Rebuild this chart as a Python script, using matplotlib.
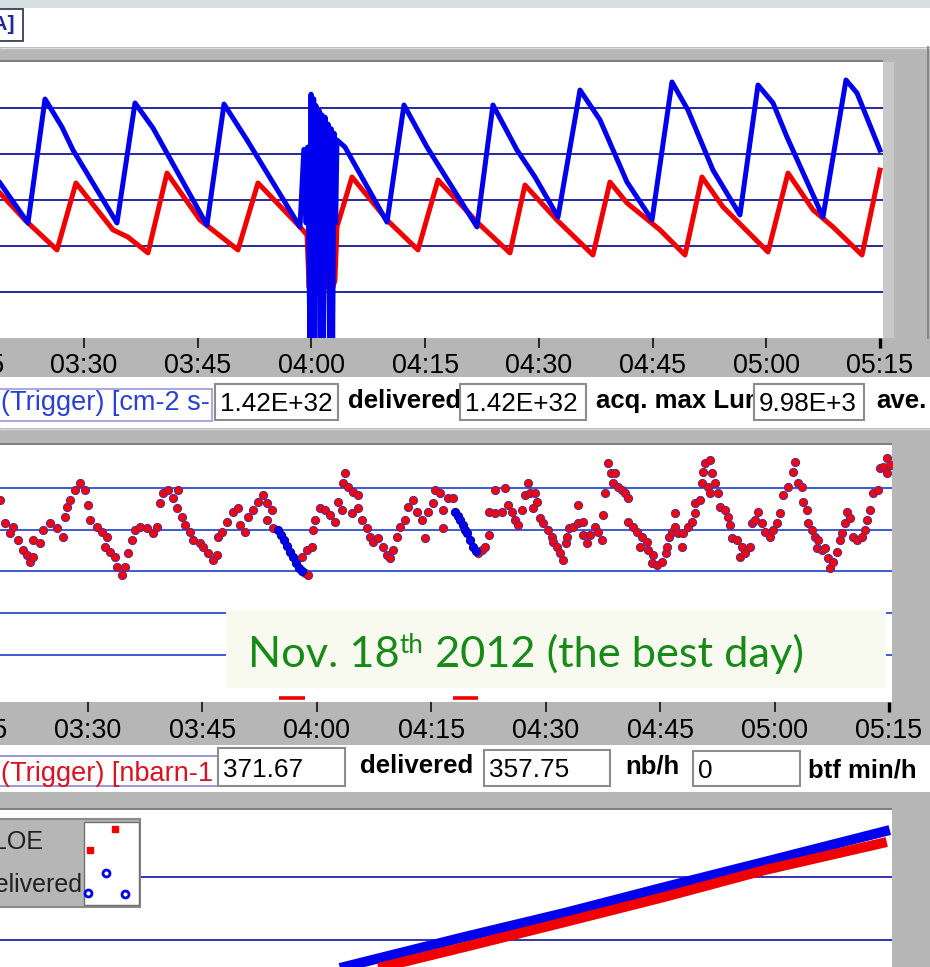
import matplotlib
matplotlib.use("Agg")
import matplotlib.pyplot as plt
from matplotlib.patches import Rectangle
from matplotlib.transforms import blended_transform_factory

plt.rcParams['font.family'] = ['Liberation Sans', 'DejaVu Sans']

# ---------------- time axis (minutes after 03:00) ----------------
tick_minutes = [15, 30, 45, 60, 75, 90, 105, 120, 135]
tick_labels = ['03:15', '03:30', '03:45', '04:00', '04:15', '04:30', '04:45', '05:00', '05:15']

# ---------------- panel 1: luminosity [1e32 cm-2 s-1] ----------------
lum_xlim = (18.92, 135.40)
lum_ylim = (0.2, 1.4)
lum_grid = [0.4, 0.6, 0.8, 1.0, 1.2]
lum_blue_t = [18.92, 22.61, 24.86, 27.10, 28.55, 34.35, 36.73, 39.10, 46.22, 48.47, 51.50, 58.49,
              59.0, 59.3, 59.5, 59.8, 59.95, 60.1, 60.3, 60.45, 60.6, 60.8, 61.0, 61.2, 61.4, 61.6,
              61.8, 62.0, 62.2, 62.4, 62.6, 62.8, 63.0, 63.2,
              63.37, 64.43, 69.97, 72.21, 75.25, 81.84, 83.95, 87.12, 89.49, 92.53, 95.43, 98.07,
              101.63, 104.93, 107.56, 109.67, 112.97, 116.53, 118.91, 120.89, 122.73, 127.48,
              130.52, 131.97, 135.0]
lum_blue_v = [0.874, 0.70, 1.239, 1.117, 1.017, 0.70, 1.222, 1.113, 0.691, 1.217, 1.061, 0.683,
              1.02, 0.70, 1.03, 0.18, 1.26, 0.18, 1.24, 0.18, 1.21, 0.72, 1.19, 0.18, 1.17, 0.18,
              1.16, 0.72, 1.13, 0.18, 1.11, 0.18, 1.09, 0.70,
              1.061, 1.030, 0.704, 1.213, 1.030, 0.683, 1.213, 1.017, 0.90, 0.726, 1.278, 1.148,
              0.878, 0.713, 1.313, 1.191, 0.930, 0.735, 1.30, 1.222, 1.074, 0.726,
              1.322, 1.265, 1.017]
lum_red_t = [18.92, 22.22, 26.44, 28.94, 33.83, 35.80, 38.44, 40.95, 45.30, 50.31, 52.95, 58.49, 59.42,
             59.7, 60.0, 60.4, 60.8, 61.2, 61.6, 62.0, 62.4, 62.8, 63.1,
             63.37, 65.35, 69.97, 74.06, 76.70, 81.97, 86.19, 88.17, 92.39, 97.14, 99.38, 101.63,
             105.98, 109.28, 111.52, 114.29, 120.23, 122.87, 126.17, 128.80, 132.63, 135.0]
lum_red_v = [0.830, 0.713, 0.583, 0.874, 0.670, 0.639, 0.570, 0.917, 0.713, 0.583, 0.874, 0.683, 0.648,
             0.42, 0.68, 0.42, 0.68, 0.42, 0.68, 0.42, 0.68, 0.42, 0.45,
             0.683, 0.90, 0.713, 0.583, 0.887, 0.70, 0.570, 0.865, 0.713, 0.561, 0.878, 0.787,
             0.670, 0.561, 0.90, 0.770, 0.574, 0.917, 0.757, 0.683, 0.561, 0.930]

# ---------------- panel 2: specific rate [nb-1 per hour] ----------------
rate_xlim = (18.465, 135.39)
rate_ylim = (143.7, 451.5)
rate_grid = [200, 250, 300, 350, 400]
rate_t = [
    18.5, 19.1, 20.2, 19.8, 20.8, 21.5, 22.0, 22.4, 22.8, 22.8, 23.7, 24.1, 25.0, 25.9, 26.7, 27.0, 27.2, 27.6, 28.3, 28.9,
    29.6, 30.0, 30.3, 31.2, 31.8, 32.5, 32.2, 32.9, 33.5, 33.8, 34.5, 34.9, 35.2, 35.8, 36.2, 36.8, 37.7, 38.5, 39.0, 39.4,
    39.8, 40.5, 41.1, 41.8, 41.7, 42.3, 42.7, 43.4, 43.8, 44.7, 45.1, 45.7, 46.4, 46.9, 47.0, 47.6, 48.2, 49.0, 49.7, 49.9,
    50.6, 51.0, 51.6, 52.3, 52.9, 53.5, 54.1, 53.5, 54.3, 58.5, 58.9, 58.1, 58.7, 59.4, 59.5, 59.8, 60.4, 61.1, 61.7, 62.4,
    62.8, 63.3, 63.4, 63.7, 64.1, 64.7, 65.4, 64.6, 65.4, 65.9, 66.6, 67.0, 67.4, 68.0, 68.7, 69.2, 69.6, 70.0, 70.5, 70.9,
    71.6, 72.0, 72.6, 73.1, 73.8, 74.2, 74.6, 75.2, 75.5, 76.1, 76.5, 76.5, 77.2, 77.8, 81.1, 81.7, 82.1, 82.5, 82.5, 83.4,
    83.4, 84.7, 84.3, 85.0, 85.6, 86.0, 86.4, 86.9, 87.3, 87.7, 87.9, 88.3, 88.9, 88.6, 89.3, 89.7, 90.3, 90.8, 91.0, 91.5,
    91.9, 92.2, 92.6, 92.8, 93.0, 93.6, 94.2, 94.2, 94.9, 94.9, 95.4, 95.8, 96.5, 96.9, 97.4, 97.5, 97.8, 98.2, 98.5, 99.1,
    98.8, 99.5, 100.0, 100.4, 100.8, 100.8, 101.4, 102.0, 102.6, 103.3, 102.4, 103.4, 104.1, 103.9, 104.6, 105.3, 105.7, 105.9, 106.1, 106.6,
    107.0, 107.0, 107.4, 107.9, 108.0, 108.7, 109.2, 109.6, 109.6, 110.2, 110.5, 110.6, 110.9, 111.5, 111.8, 112.2, 111.3, 111.5, 112.6, 112.8,
    113.5, 113.9, 114.2, 114.4, 115.1, 115.7, 115.5, 116.1, 116.8, 117.0, 117.4, 117.8, 118.4, 118.7, 119.4, 119.8, 120.3, 120.7, 121.1, 121.8,
    122.4, 122.7, 123.1, 123.6, 123.7, 124.2, 124.4, 124.9, 125.3, 125.7, 125.6, 126.2, 126.6, 127.0, 127.3, 127.7, 128.2, 128.6, 128.8, 129.2,
    129.5, 129.9, 130.3, 130.8, 131.5, 131.9, 132.1, 132.5, 132.9, 133.6, 133.8, 134.2, 134.7, 134.8, 135.1]
rate_v = [
    386, 358, 353, 346, 338, 326, 320, 311, 317, 338, 334, 350, 358, 352, 341, 365, 377, 386, 398, 406,
    398, 380, 362, 353, 347, 341, 329, 323, 317, 305, 296, 305, 322, 338, 350, 353, 352, 346, 353, 382,
    394, 398, 388, 398, 376, 365, 356, 347, 338, 334, 329, 322, 314, 320, 341, 347, 359, 371, 376, 356,
    347, 365, 374, 383, 392, 382, 374, 362, 352, 298, 296, 317, 326, 329, 350, 362, 376, 374, 368, 359,
    383, 374, 406, 418, 401, 395, 392, 370, 376, 362, 352, 341, 335, 340, 329, 320, 316, 326, 341, 353,
    362, 377, 386, 371, 362, 340, 371, 382, 398, 394, 374, 352, 388, 388, 322, 326, 329, 344, 371, 370,
    398, 400, 371, 380, 371, 362, 356, 374, 392, 406, 394, 376, 383, 394, 364, 358, 350, 341, 335, 329,
    322, 314, 334, 341, 352, 353, 358, 380, 359, 344, 334, 344, 353, 347, 338, 368, 394, 430, 418, 418,
    406, 401, 398, 394, 388, 359, 353, 347, 341, 335, 329, 326, 320, 310, 308, 311, 322, 329, 341, 347,
    353, 370, 346, 329, 346, 353, 359, 370, 382, 386, 406, 419, 430, 434, 418, 406, 401, 394, 394, 377,
    374, 365, 356, 340, 338, 329, 317, 322, 329, 358, 362, 371, 358, 347, 341, 350, 358, 370, 392, 401,
    419, 431, 406, 401, 383, 374, 358, 350, 341, 338, 328, 326, 328, 316, 304, 311, 323, 338, 346, 358,
    371, 364, 341, 338, 341, 350, 362, 374, 394, 398, 424, 425, 436, 418, 428]
rate_blue_t = [54.9, 55.3, 55.7, 56.1, 56.5, 56.9, 57.3, 57.7, 58.1,
               78.1, 78.5, 78.8, 79.1, 79.4, 79.7, 80.1, 80.5, 80.8]
rate_blue_v = [350, 344, 338, 330, 323, 317, 310, 304, 300,
               371, 366, 362, 356, 350, 346, 338, 329, 325]
rate_low_start = [55.0, 77.8]
rate_low_end = [58.4, 81.1]
rate_low_v = 148.5

# ---------------- panel 3: integrated luminosity [nb-1] ----------------
int_xlim = (18.465, 135.39)
int_ylim = (514.3, 1012.7)
int_grid = [600, 800]
int_deliv_t = [60.5, 63.0, 79.4, 92.5, 105.6, 118.7, 135.1]
int_deliv_v = [497, 511, 610, 686, 768, 848, 949]
int_loe_t = [62.0, 64.3, 79.4, 92.5, 105.6, 118.7, 134.7]
int_loe_v = [475, 489, 578, 657, 737, 822, 911]

# ---------------- read-out fields ----------------
row1_values = ['1.42E+32', '1.42E+32', '9.98E+3']
row2_values = ['371.67', '357.75', '0']
note_text = ['Nov. 18', 'th', ' 2012 (the best day)']

GREY = '#b6b6b6'
BLUE = '#0000ee'
RED = '#f00000'

W, H = 930, 967
fig = plt.figure(figsize=(W / 100, H / 100), dpi=100)


def px_axes(x0, y0, x1, y1, z):
    return fig.add_axes([x0 / W, 1 - y1 / H, (x1 - x0) / W, (y1 - y0) / H], zorder=z)


def chrome_axes(z):
    ax = px_axes(0, 0, W, H, z)
    ax.set_xlim(0, W)
    ax.set_ylim(H, 0)
    ax.axis('off')
    return ax


bg = chrome_axes(0)
ov = chrome_axes(5)


def box(ax, x0, y0, x1, y1, fc, ec='none', lw=0.0, z=1):
    r = Rectangle((x0, y0), x1 - x0, y1 - y0, facecolor=fc, edgecolor=ec, linewidth=lw, zorder=z)
    ax.add_patch(r)
    return r


def hline(ax, y, x0, x1, c, lw=1.0, z=2):
    ax.plot([x0, x1], [y, y], color=c, lw=lw, zorder=z, solid_capstyle='butt')


# window frame
box(bg, 0, 0, W, 8, '#d5dfe0')
box(bg, 0, 8, W, 47, 'white')
box(bg, 0, 47, W, 62, GREY)
hline(bg, 47.5, 0, W, '#dedede', 1.0)
hline(bg, 61, 0, 883, '#7f7f7f', 1.4)
box(bg, 883, 47, W, 377, GREY)
box(bg, 883, 62, 894, 338, '#c9c9c9')
bg.plot([927.5, 927.5], [47, 338], color='#7d7d7d', lw=1.2, zorder=2)
box(bg, 0, 338, W, 377, GREY)
box(bg, 0, 377, W, 428, 'white')
box(bg, 0, 428, W, 445, GREY)
hline(bg, 428.5, 0, W, '#dcdcdc', 1.0)
hline(bg, 443.5, 0, 892, '#7f7f7f', 1.4)
box(bg, 892, 428, W, 745, GREY)
box(bg, 0, 702, W, 745, GREY)
box(bg, 0, 745, W, 792, 'white')
box(bg, 0, 792, W, 810, GREY)
hline(bg, 808.5, 0, 892, '#7f7f7f', 1.4)
box(bg, 892, 792, W, H, GREY)

# unit box at the top
box(bg, -3, 9, 23, 41, 'white', '#3b3b5b', 1.3, z=3)
bg.text(15, 25, '[mA]', ha='right', va='center', fontsize=15, fontweight='bold',
        color='#1f2b9c', zorder=4)


def data_axes(x0, y0, x1, y1, xlim, ylim):
    ax = px_axes(x0, y0, x1, y1, 2)
    ax.set_xlim(*xlim)
    ax.set_ylim(*ylim)
    for s in ax.spines.values():
        s.set_visible(False)
    ax.set_yticks([])
    ax.set_facecolor('white')
    return ax


def time_ticks(ax, label_top_px, pad):
    ax.set_xticks(tick_minutes[1:])
    ax.set_xticklabels(tick_labels[1:])
    ax.tick_params(axis='x', direction='out', length=7.2, width=1.1, pad=pad,
                   labelsize=19.4, colors='black')
    ax.xaxis.get_major_ticks()[-1].tick1line.set_markeredgewidth(2.4)
    tr = blended_transform_factory(ax.transData, bg.transData)
    bg.text(tick_minutes[0], label_top_px, tick_labels[0], transform=tr, ha='center', va='top',
            fontsize=19.4, zorder=4)


# ---- panel 1
ax1 = data_axes(0, 62, 883, 338, lum_xlim, lum_ylim)
for g in lum_grid:
    ax1.axhline(g, color='#2828a0', lw=1.4, zorder=1)
ax1.plot(lum_red_t, lum_red_v, color=RED, lw=3.6, solid_joinstyle='round', zorder=2)
ax1.plot(lum_blue_t, lum_blue_v, color=BLUE, lw=3.6, solid_joinstyle='round', zorder=3)
time_ticks(ax1, 353, 3.6)

# ---- panel 2
ax2 = data_axes(0, 445, 892, 702, rate_xlim, rate_ylim)
for g in rate_grid:
    ax2.axhline(g, color='#3c5ad2', lw=1.4, zorder=1)
ax2.scatter(rate_t, rate_v, s=34, facecolor='#ff0000', edgecolor='#5b2d8e', linewidths=0.8, zorder=3)
ax2.scatter(rate_blue_t, rate_blue_v, s=34, facecolor='#0000ff', edgecolor='#0000a0', linewidths=0.8, zorder=3)
for a, b in zip(rate_low_start, rate_low_end):
    ax2.plot([a, b], [rate_low_v, rate_low_v], color=RED, lw=2.6, solid_capstyle='butt', zorder=3)
time_ticks(ax2, 718, 4.3)

# ---- panel 3
ax3 = data_axes(0, 810, 892, H, int_xlim, int_ylim)
ax3.set_xticks([])
for g in int_grid:
    ax3.axhline(g, color='#3434b4', lw=1.4, zorder=1)
ax3.plot(int_deliv_t, int_deliv_v, color=BLUE, lw=7.2, solid_capstyle='butt', zorder=2)
ax3.plot(int_loe_t, int_loe_v, color=RED, lw=7.2, solid_capstyle='butt', zorder=3)

# ---- read-out rows
FS_VAL = 18.8
FS_LBL = 18.5


def field(x0, y0, x1, y1, text, base):
    box(bg, x0, y0, x1, y1, 'white', '#8c8c8c', 1.5, z=3)
    bg.text(x0 + 5, base, text, ha='left', va='baseline', fontsize=FS_VAL, color='black', zorder=4)


def caption(x, base, text):
    bg.text(x, base, text, ha='left', va='baseline', fontsize=FS_LBL, fontweight='bold',
            color='black', zorder=2)


def row_title(x1, y0, y1, base, text, color, edge):
    r = box(bg, -2, y0, x1, y1, 'white', edge, 1.2, z=2)
    t = bg.text(1, base, text, ha='left', va='baseline', fontsize=19.5, color=color, zorder=2.5)
    t.set_clip_path(r)


row_title(212, 389, 421, 410, '(Trigger) [cm-2 s-', '#2a3fd6', '#9a9ae0')
field(215, 384, 338, 420, row1_values[0], 411)
caption(348, 408, 'delivered')
field(460, 384, 586, 420, row1_values[1], 411)
caption(596, 408, 'acq. max Lum')
field(754, 384, 864, 420, row1_values[2], 411)
caption(876, 408, 'ave.')

row_title(218, 756, 786, 781, '(Trigger) [nbarn-1', '#dc1020', '#8a86cc')
field(218, 748, 345, 786, row2_values[0], 777)
caption(360, 773, 'delivered')
field(484, 750, 610, 786, row2_values[1], 777)
caption(625, 773, 'nb/h')
field(693, 751, 800, 786, row2_values[2], 778)
caption(808, 777, 'btf min/h')

# ---- legend of panel 3
box(ov, -2, 819, 140, 907, GREY, '#8a8a8a', 1.5, z=2)
box(ov, 84, 822, 139, 905, 'white', '#707070', 1.0, z=3)
ov.text(43, 849, 'LOE', ha='right', va='baseline', fontsize=18, color='#202020', zorder=4)
ov.text(82, 892, 'delivered', ha='right', va='baseline', fontsize=18, color='#202020', zorder=4)
ov.plot([115, 90], [829, 850], ls='none', marker='s', ms=5, color=RED, zorder=4)
ov.plot([106, 88, 125], [873, 893, 894], ls='none', marker='o', ms=5, mfc='white',
        mec=BLUE, mew=2, zorder=4)

# ---- note over panel 2
box(ov, 226, 610, 886, 688, '#f8f9ef', z=2)
renderer = fig.canvas.get_renderer()
GREEN = '#178a17'


def place_note(fs):
    items = []
    x = 248
    for s, scale, rise in zip(note_text, [1.0, 0.6, 1.0], [0, 14, 0]):
        t = ov.text(x, 667 - rise, s, fontsize=fs * scale, family='Lato', color=GREEN,
                    ha='left', va='baseline', zorder=4)
        x += t.get_window_extent(renderer).width
        items.append(t)
    return items, x - 248


items, width = place_note(30)
for t in items:
    t.remove()
place_note(30 * 555 / width)

fig.savefig('out.png', dpi=100)
